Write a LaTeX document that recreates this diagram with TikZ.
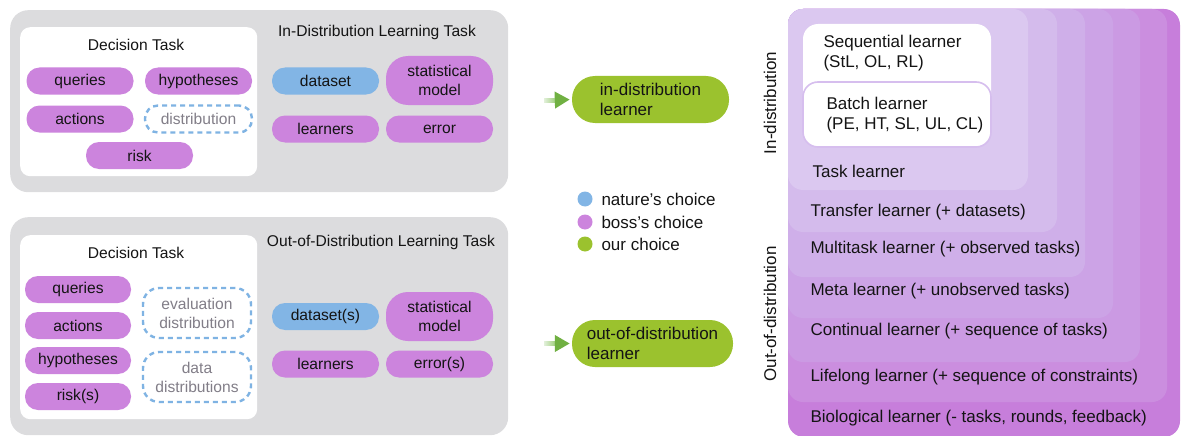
\documentclass[tikz,border=0pt]{standalone}
\usepackage{fontspec}
\setmainfont{Liberation Sans}
\usetikzlibrary{arrows.meta}
\definecolor{panelgray}{RGB}{220,220,222}
\definecolor{pillpurple}{RGB}{204,132,221}
\definecolor{pillblue}{RGB}{130,181,229}
\definecolor{pillgreen}{RGB}{155,194,46}
\definecolor{dashblue}{RGB}{127,179,227}
\definecolor{dashtext}{RGB}{130,126,136}
\definecolor{shaftlight}{RGB}{226,240,218}
\definecolor{shaftdark}{RGB}{150,202,112}
\definecolor{arrowtip}{RGB}{112,176,66}
\definecolor{lvA}{RGB}{219,200,240}
\definecolor{lvB}{RGB}{212,187,236}
\definecolor{lvC}{RGB}{207,175,233}
\definecolor{lvD}{RGB}{204,163,230}
\definecolor{lvE}{RGB}{203,154,227}
\definecolor{lvF}{RGB}{203,142,223}
\definecolor{lvG}{RGB}{199,126,219}
\definecolor{batchedge}{RGB}{214,190,238}
\definecolor{ink}{RGB}{20,20,20}
\begin{document}
\begin{tikzpicture}[x=1pt,y=-1pt,
  smallfont/.style={font=\fontsize{15.6}{19}\selectfont},
  bigfont/.style={font=\fontsize{17}{20}\selectfont},
  pill/.style={smallfont, rounded corners=13pt, minimum width=107pt, minimum height=27pt, inner sep=0pt, align=center, text=ink},
  ppill/.style={pill, fill=pillpurple},
  bpill/.style={pill, fill=pillblue},
  tallpill/.style={ppill, minimum height=49pt, rounded corners=22pt},
  dpill/.style={pill, draw=dashblue, line width=2.4pt, dash pattern=on 5pt off 4pt, text=dashtext},
  gpill/.style={bigfont, fill=pillgreen, rounded corners=23pt, minimum width=157pt, minimum height=47pt, inner sep=0pt, align=left, text=ink},
  panel/.style={fill=panelgray, rounded corners=18pt, inner sep=0pt, anchor=north west},
  whitebox/.style={fill=white, rounded corners=10pt, inner sep=0pt, anchor=north west},
  title/.style={smallfont, text=ink},
  lvtext/.style={bigfont, text=ink, anchor=west, align=left},
  flowtip/.style={line width=4pt, draw=shaftdark, -{Triangle[length=15pt,width=16pt,fill=arrowtip,color=arrowtip]}, shorten >=2pt}
]
\useasboundingbox (0,0) rectangle (1181,436);

% ---------- top panel ----------
\node[panel, minimum width=498pt, minimum height=182pt] (idpanel) at (10,10) {};
\node[whitebox, minimum width=237pt, minimum height=149pt] (iddec) at (20,27) {};
\node[title] (iddectitle) at (136,45) {Decision Task};
\node[title] (idtitle) at (377,32) {In-Distribution Learning Task};
\node[ppill] (q1) at (80,81) {queries};
\node[ppill] (h1) at (198.5,81) {hypotheses};
\node[ppill] (a1) at (80,119) {actions};
\node[dpill] (d1) at (198.5,119) {distribution};
\node[ppill] (r1) at (139.5,155.5) {risk};
\node[bpill] (ds1) at (325.5,81) {dataset};
\node[tallpill] (sm1) at (439.5,80.5) {statistical\\model};
\node[ppill] (l1) at (325.5,129) {learners};
\node[ppill] (e1) at (439.5,129) {error};

% ---------- bottom panel ----------
\node[panel, minimum width=498pt, minimum height=218pt] (oodpanel) at (10,217) {};
\node[whitebox, minimum width=237pt, minimum height=184pt] (ooddec) at (20,235) {};
\node[title] (ooddectitle) at (136,253) {Decision Task};
\node[title] (oodtitle) at (381,242) {Out-of-Distribution Learning Task};
\node[ppill, minimum width=106pt] (q2) at (78,289.5) {queries};
\node[ppill, minimum width=106pt] (a2) at (78,325.5) {actions};
\node[ppill, minimum width=106pt] (h2) at (78,360.5) {hypotheses};
\node[ppill, minimum width=106pt] (r2) at (78,396.5) {risk(s)};
\node[dpill, minimum width=108pt, minimum height=50pt, rounded corners=16pt] (ev2) at (197,313) {evaluation\\distribution};
\node[dpill, minimum width=108pt, minimum height=50pt, rounded corners=16pt] (dd2) at (197,377) {data\\distributions};
\node[bpill] (ds2) at (325.5,316.5) {dataset(s)};
\node[tallpill] (sm2) at (439.5,316.5) {statistical\\model};
\node[ppill] (l2) at (325.5,364) {learners};
\node[ppill] (e2) at (439.5,364) {error(s)};

% ---------- learners and arrows ----------
\node[gpill] (idl) at (650.5,99.5) {in-distribution\\learner};
\node[gpill, minimum width=161pt] (oodl) at (652.5,343.5) {out-of-distribution\\learner};
\shade[left color=shaftlight, right color=shaftdark] (544,98) rectangle (557,102);
\shade[left color=shaftlight, right color=shaftdark] (544,341.5) rectangle (557,345.5);
\coordinate (idstart) at (556,100);
\coordinate (oodstart) at (556,343.5);
\draw[flowtip] (idstart) -- (idl.west);
\draw[flowtip] (oodstart) -- (oodl.west);

% ---------- legend ----------
\fill[pillblue] (585,199) circle (7.5pt);
\fill[pillpurple] (585,222) circle (7.5pt);
\fill[pillgreen] (585,244) circle (7.5pt);
\node[bigfont, anchor=west, text=ink] (lg1) at (598,199) {nature’s choice};
\node[bigfont, anchor=west, text=ink] (lg2) at (598,222) {boss’s choice};
\node[bigfont, anchor=west, text=ink] (lg3) at (598,244) {our choice};

% ---------- nested learners ----------
\fill[lvG, rounded corners=16pt] (788,9) rectangle (1180,437);
\fill[lvF, rounded corners=15pt] (788,9) rectangle (1167,402);
\fill[lvE, rounded corners=15pt] (788,9) rectangle (1140,362);
\fill[lvD, rounded corners=15pt] (788,9) rectangle (1113,318);
\fill[lvC, rounded corners=15pt] (788,9) rectangle (1085,277);
\fill[lvB, rounded corners=15pt] (788,9) rectangle (1057,232);
\fill[lvA, rounded corners=15pt] (788,9) rectangle (1028,190);
\fill[white, rounded corners=15pt] (803,24) rectangle (991,147);
\draw[batchedge, fill=white, line width=1.6pt, rounded corners=15pt] (803,82) rectangle (991,147);

\node[lvtext] (seq) at (820,53) {Sequential learner\\(StL, OL, RL)};
\node[lvtext] (bat) at (823,115) {Batch learner\\(PE, HT, SL, UL, CL)};
\node[lvtext] (tsk) at (809,171) {Task learner};
\node[lvtext] (trf) at (807,212) {Transfer learner (+ datasets)};
\node[lvtext] (mtl) at (807,249.5) {Multitask learner (+ observed tasks)};
\node[lvtext] (met) at (807,291.5) {Meta learner (+ unobserved tasks)};
\node[lvtext] (cnt) at (807,331.5) {Continual learner (+ sequence of tasks)};
\node[lvtext] (lfl) at (807,377) {Lifelong learner (+ sequence of constraints)};
\node[lvtext] (bio) at (807,418) {Biological learner (- tasks, rounds, feedback)};

\node[bigfont, rotate=90, text=ink] (indist) at (770,103) {In-distribution};
\node[bigfont, rotate=90, text=ink] (outdist) at (770,314) {Out-of-distribution};
\end{tikzpicture}
\end{document}
